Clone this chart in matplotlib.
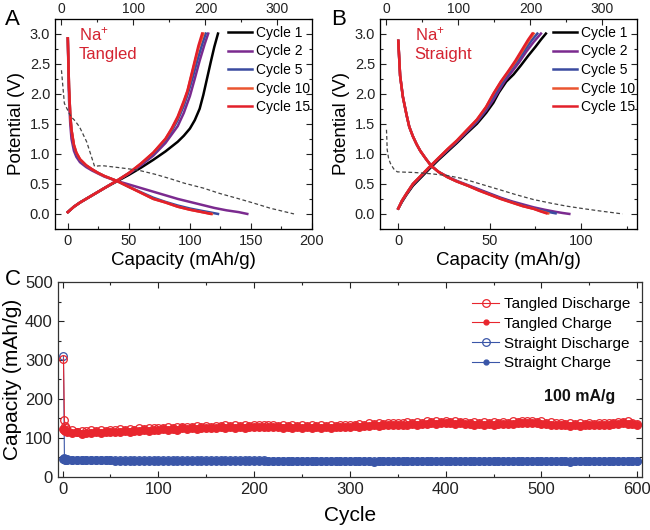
import matplotlib
matplotlib.use("Agg")
import matplotlib.pyplot as plt
from matplotlib.ticker import MultipleLocator, FormatStrFormatter
from matplotlib.lines import Line2D

plt.rcParams['font.family'] = ['Liberation Sans', 'DejaVu Sans']
plt.rcParams['mathtext.fontset'] = 'custom'
plt.rcParams['mathtext.rm'] = 'Liberation Sans'
plt.rcParams['mathtext.it'] = 'Liberation Sans'

# ---------------- Panel A (Tangled) ----------------
cycle_labels = ["Cycle 1", "Cycle 2", "Cycle 5", "Cycle 10", "Cycle 15"]
cycle_colors = ["#000000", "#7B2A8F", "#3B4BA0", "#EA5530", "#E3202A"]

# discharge curves (capacity, potential)
A_dis_c2_x = [0, 0.5, 1, 2, 3, 5, 7, 10, 15, 20, 25, 30, 40, 50, 60, 70, 80, 90, 100, 110, 120, 130, 140, 147]
A_dis_c2_v = [2.92, 2.4, 1.9, 1.5, 1.25, 1.05, 0.95, 0.86, 0.78, 0.72, 0.67, 0.62, 0.55, 0.49, 0.43, 0.37, 0.31, 0.25, 0.2, 0.15, 0.1, 0.06, 0.03, 0.0]
A_dis_c5_x = [0, 0.5, 1, 2, 3, 5, 7, 10, 15, 20, 25, 30, 40, 50, 60, 70, 80, 90, 100, 110, 118, 123]
A_dis_c5_v = [2.92, 2.5, 2.1, 1.65, 1.4, 1.12, 0.99, 0.89, 0.8, 0.74, 0.68, 0.63, 0.55, 0.45, 0.36, 0.27, 0.2, 0.14, 0.09, 0.05, 0.02, 0.0]
A_dis_c10_x = [0, 0.5, 1, 2, 3, 5, 7, 10, 15, 20, 25, 30, 40, 50, 60, 70, 80, 90, 100, 110, 118]
A_dis_c10_v = [2.92, 2.5, 2.1, 1.65, 1.4, 1.15, 1.02, 0.91, 0.81, 0.74, 0.68, 0.63, 0.55, 0.45, 0.35, 0.25, 0.19, 0.12, 0.07, 0.03, 0.0]
A_dis_c15_x = [0, 0.5, 1, 2, 3, 5, 7, 10, 15, 20, 25, 30, 40, 50, 60, 70, 80, 90, 100, 110, 117]
A_dis_c15_v = [2.92, 2.5, 2.1, 1.65, 1.4, 1.15, 1.02, 0.91, 0.81, 0.74, 0.68, 0.63, 0.55, 0.45, 0.35, 0.25, 0.19, 0.12, 0.07, 0.03, 0.0]

# charge curves
A_chg_c1_x = [0, 5, 10, 20, 30, 40, 50, 60, 70, 80, 90, 95, 100, 104, 108, 111, 114, 117, 120, 123]
A_chg_c1_v = [0.03, 0.12, 0.19, 0.31, 0.43, 0.54, 0.65, 0.77, 0.9, 1.04, 1.2, 1.3, 1.42, 1.56, 1.75, 1.98, 2.25, 2.52, 2.78, 3.0]
A_chg_c2_x = [0, 5, 10, 20, 30, 40, 50, 60, 70, 80, 90, 95, 100, 104, 108, 112, 115]
A_chg_c2_v = [0.03, 0.12, 0.19, 0.31, 0.43, 0.55, 0.67, 0.81, 0.97, 1.18, 1.46, 1.68, 1.96, 2.25, 2.55, 2.82, 3.0]
A_chg_c5_x = [0, 5, 10, 20, 30, 40, 50, 60, 70, 80, 85, 90, 95, 98, 102, 106, 110, 113]
A_chg_c5_v = [0.03, 0.12, 0.19, 0.31, 0.43, 0.55, 0.68, 0.83, 1.0, 1.23, 1.38, 1.56, 1.8, 1.98, 2.25, 2.55, 2.82, 3.0]
A_chg_c10_x = [0, 5, 10, 20, 30, 40, 50, 60, 70, 80, 85, 90, 95, 98, 101, 104, 107, 111]
A_chg_c10_v = [0.03, 0.12, 0.19, 0.31, 0.43, 0.55, 0.68, 0.84, 1.02, 1.25, 1.41, 1.6, 1.86, 2.04, 2.28, 2.52, 2.76, 3.0]
A_chg_c15_x = [0, 5, 10, 20, 30, 40, 50, 60, 70, 80, 85, 90, 95, 98, 101, 104, 107, 110]
A_chg_c15_v = [0.03, 0.12, 0.19, 0.31, 0.43, 0.55, 0.68, 0.84, 1.02, 1.25, 1.42, 1.62, 1.88, 2.05, 2.3, 2.55, 2.8, 3.0]

# dashed curve (top axis)
A_dash_x = [0, 4, 13, 18, 25, 35, 46, 52, 59, 80, 106, 130, 150, 171, 197, 220, 244, 267, 290, 323]
A_dash_v = [2.39, 1.84, 1.62, 1.56, 1.45, 1.2, 0.79, 0.80, 0.80, 0.77, 0.73, 0.66, 0.59, 0.51, 0.43, 0.34, 0.26, 0.18, 0.095, 0.0]

# ---------------- Panel B (Straight) ----------------
B_dis_c2_x = [0, 1, 2.5, 4.5, 6, 8, 10, 12, 15, 18, 22, 27, 32, 38, 44, 50, 56, 62, 68, 74, 80, 86, 90, 93.5]
B_dis_c2_v = [2.88, 2.3, 1.95, 1.65, 1.45, 1.29, 1.16, 1.05, 0.92, 0.8, 0.7, 0.62, 0.55, 0.48, 0.41, 0.34, 0.27, 0.21, 0.16, 0.11, 0.07, 0.035, 0.015, 0.0]
B_dis_c5_x = [0, 1, 2.5, 4.5, 6, 8, 10, 12, 15, 18, 22, 27, 32, 38, 44, 50, 56, 62, 68, 74, 80, 86]
B_dis_c5_v = [2.88, 2.3, 1.95, 1.65, 1.45, 1.29, 1.16, 1.05, 0.92, 0.8, 0.7, 0.61, 0.54, 0.47, 0.4, 0.33, 0.26, 0.2, 0.14, 0.09, 0.045, 0.01]
B_dis_c10_x = [0, 1, 2.5, 4.5, 6, 8, 10, 12, 15, 18, 22, 27, 32, 38, 44, 50, 56, 62, 68, 74, 78, 82]
B_dis_c10_v = [2.88, 2.3, 1.95, 1.65, 1.45, 1.29, 1.16, 1.05, 0.92, 0.8, 0.7, 0.61, 0.54, 0.47, 0.39, 0.32, 0.25, 0.19, 0.13, 0.085, 0.045, 0.01]
B_dis_c15_x = [0, 1, 2.5, 4.5, 6, 8, 10, 12, 15, 18, 22, 27, 32, 38, 44, 50, 56, 62, 68, 74, 78, 81]
B_dis_c15_v = [2.88, 2.3, 1.95, 1.65, 1.45, 1.29, 1.16, 1.05, 0.92, 0.8, 0.7, 0.61, 0.54, 0.47, 0.39, 0.32, 0.25, 0.19, 0.13, 0.085, 0.04, 0.01]

B_chg_c1_x = [0, 2, 4.5, 8, 13.5, 17, 22, 27, 32, 37, 43, 48, 52, 55, 59, 63, 67, 71, 75, 78, 80.7]
B_chg_c1_v = [0.09, 0.2, 0.32, 0.47, 0.64, 0.75, 0.9, 1.04, 1.18, 1.33, 1.5, 1.68, 1.85, 2.02, 2.2, 2.32, 2.47, 2.63, 2.78, 2.9, 3.0]
B_chg_c2_x = [0, 2, 4.5, 8, 13.5, 17, 22, 27, 32, 37, 43, 48, 52, 55, 58, 62, 66, 70, 74, 78]
B_chg_c2_v = [0.09, 0.21, 0.33, 0.49, 0.66, 0.77, 0.92, 1.06, 1.2, 1.35, 1.53, 1.72, 1.9, 2.05, 2.2, 2.36, 2.52, 2.7, 2.86, 3.0]
B_chg_c5_x = [0, 2, 4.5, 8, 13.5, 17, 22, 27, 32, 37, 43, 48, 52, 55, 58, 62, 66, 70, 73, 76]
B_chg_c5_v = [0.09, 0.22, 0.34, 0.5, 0.67, 0.78, 0.93, 1.07, 1.21, 1.37, 1.55, 1.75, 1.95, 2.1, 2.24, 2.42, 2.58, 2.76, 2.89, 3.0]
B_chg_c10_x = [0, 2, 4.5, 8, 13.5, 17, 22, 27, 32, 37, 43, 48, 52, 56, 60, 64, 68, 71, 74]
B_chg_c10_v = [0.09, 0.22, 0.34, 0.5, 0.67, 0.78, 0.93, 1.08, 1.22, 1.38, 1.57, 1.78, 2.0, 2.19, 2.36, 2.53, 2.72, 2.87, 3.0]
B_chg_c15_x = [0, 2, 4.5, 8, 13.5, 17, 22, 27, 32, 37, 43, 48, 52, 56, 60, 64, 68, 71, 73.3]
B_chg_c15_v = [0.09, 0.22, 0.34, 0.5, 0.67, 0.78, 0.93, 1.08, 1.22, 1.38, 1.57, 1.78, 2.0, 2.2, 2.37, 2.55, 2.75, 2.9, 3.0]

B_dash_x = [0, 0.5, 1, 3, 5.5, 10, 15, 25, 38, 60, 84, 105, 130, 158, 180, 204, 228, 250, 275, 296, 328]
B_dash_v = [1.4, 1.25, 1.07, 0.92, 0.84, 0.75, 0.70, 0.695, 0.69, 0.67, 0.64, 0.59, 0.5, 0.4, 0.32, 0.24, 0.18, 0.13, 0.085, 0.05, 0.0]

# ---------------- Panel C (cycling) ----------------
cycles = [1, 2, 3, 4] + list(range(5, 601, 5))
tangled_discharge = [303, 145, 130, 125,
    121, 119, 116, 118, 117, 119, 117, 120, 118, 121, 119, 122, 120, 123, 121, 124, 122, 125, 125, 126,
    125, 127, 126, 128, 127, 129, 128, 130, 128, 131, 129, 131, 130, 132, 130, 132, 131, 133, 131, 133,
    132, 134, 132, 133, 131, 133, 131, 132, 130, 132, 130, 133, 131, 133, 130, 133, 131, 133, 132, 134,
    133, 136, 134, 137, 135, 138, 136, 138, 137, 139, 137, 140, 138, 141, 139, 142, 140, 143, 141, 143,
    141, 142, 140, 141, 139, 140, 138, 140, 138, 140, 139, 141, 139, 142, 140, 143, 142, 144, 141, 142,
    139, 140, 137, 138, 136, 138, 136, 138, 136, 138, 136, 139, 137, 139, 138, 141, 140, 142, 138, 136]
tangled_charge = [122, 120, 118, 117,
    116, 112, 114, 111, 113, 112, 114, 113, 115, 114, 116, 115, 117, 116, 118, 117, 119, 118, 121, 119,
    122, 120, 123, 121, 124, 122, 125, 123, 125, 124, 126, 125, 127, 125, 127, 126, 128, 126, 128, 127,
    129, 127, 129, 127, 128, 126, 128, 126, 127, 125, 127, 126, 128, 126, 127, 126, 128, 127, 129, 128,
    130, 129, 131, 130, 132, 131, 133, 132, 134, 132, 134, 133, 135, 134, 136, 135, 137, 136, 138, 137,
    138, 136, 137, 135, 136, 134, 135, 134, 135, 134, 136, 135, 136, 136, 137, 137, 139, 138, 138, 136,
    136, 134, 134, 132, 133, 131, 133, 131, 133, 132, 133, 132, 134, 133, 135, 135, 137, 136, 135, 132]
straight_discharge = [310, 48, 46, 45,
    45, 44, 44, 43, 43, 43, 43, 43, 43, 43, 42, 42, 42, 42, 42, 42, 42, 42, 42, 42,
    42, 42, 42, 42, 42, 42, 42, 42, 42, 42, 42, 42, 42, 42, 42, 42, 42, 42, 42, 42,
    42, 42, 41, 41, 41, 41, 41, 41, 41, 41, 41, 41, 41, 41, 41, 41, 41, 41, 41, 41,
    41, 41, 41, 41, 40, 41, 41, 41, 41, 41, 41, 41, 41, 41, 41, 41, 41, 41, 41, 41,
    41, 41, 41, 41, 41, 41, 41, 41, 41, 41, 41, 41, 41, 41, 41, 41, 41, 41, 41, 41,
    41, 41, 41, 41, 41, 40, 41, 41, 41, 41, 41, 41, 41, 41, 41, 41, 41, 41, 41, 41]
straight_charge = [46, 45, 44, 44,
    43, 43, 42, 42, 42, 42, 42, 42, 42, 42, 41, 41, 41, 41, 41, 41, 41, 41, 41, 41,
    41, 41, 41, 41, 41, 41, 41, 41, 41, 41, 41, 41, 41, 41, 41, 41, 41, 41, 41, 41,
    41, 41, 40, 40, 40, 40, 40, 40, 40, 40, 40, 40, 40, 40, 40, 40, 40, 40, 40, 40,
    40, 40, 40, 40, 38, 40, 40, 40, 40, 40, 40, 40, 40, 40, 40, 40, 40, 40, 40, 40,
    40, 40, 40, 40, 40, 40, 40, 40, 40, 40, 40, 40, 40, 40, 40, 40, 40, 40, 40, 40,
    40, 40, 40, 40, 40, 38, 40, 40, 40, 40, 40, 40, 40, 40, 40, 40, 40, 40, 40, 40]

RED = "#E8262E"
BLUE = "#3A56A8"
TXT_RED = "#D42330"

fig = plt.figure(figsize=(6.5, 5.3), dpi=100)


def style_axes(ax, xmaj, xmin, ymaj, ymin, fs):
    ax.xaxis.set_major_locator(MultipleLocator(xmaj))
    ax.xaxis.set_minor_locator(MultipleLocator(xmin))
    ax.yaxis.set_major_locator(MultipleLocator(ymaj))
    ax.yaxis.set_minor_locator(MultipleLocator(ymin))
    ax.tick_params(which='both', direction='in', right=True, labelsize=fs, width=0.8, colors='#222222')
    ax.tick_params(which='major', length=4.5)
    ax.tick_params(which='minor', length=2.5)
    for s in ax.spines.values():
        s.set_linewidth(0.9)
        s.set_color('#333333')


def half_panel(rect, dis, chg, dash, xlim, text):
    ax = fig.add_axes(rect)
    ax.set_xlim(*xlim)
    ax.set_ylim(-0.25, 3.25)
    style_axes(ax, 50, 25, 0.5, 0.25, 10.5)
    ax.yaxis.set_major_formatter(FormatStrFormatter('%.1f'))
    ax.tick_params(top=False)
    ax2 = ax.twiny()
    ax2.set_xlim(-9, 348)
    ax2.xaxis.set_major_locator(MultipleLocator(100))
    ax2.xaxis.set_minor_locator(MultipleLocator(50))
    ax2.tick_params(which='both', direction='in', labelsize=10, width=0.8, colors='#222222', pad=2)
    ax2.tick_params(which='major', length=4.5)
    ax2.tick_params(which='minor', length=2.5)
    ax2.plot(dash[0], dash[1], ls=(0, (3, 2)), color='#444444', lw=0.9)
    lines = []
    for i, (lab, col) in enumerate(zip(cycle_labels, cycle_colors)):
        if dis[i] is not None:
            ax.plot(dis[i][0], dis[i][1], color=col, lw=1.8)
        l, = ax.plot(chg[i][0], chg[i][1], color=col, lw=1.8, label=lab)
        lines.append(l)
    ax.legend(handles=lines, loc='upper right', frameon=False, fontsize=10,
              handlelength=1.75, handletextpad=0.3, labelspacing=0.33,
              borderaxespad=0.0, borderpad=0.1, bbox_to_anchor=(1.0, 0.972))
    ax.text(9, 3.13, text, color=TXT_RED, fontsize=12, va='top', ha='left', linespacing=1.25)
    ax.set_xlabel("Capacity (mAh/g)", fontsize=13.5, labelpad=3)
    ax.set_ylabel("Potential (V)", fontsize=13.5, labelpad=3)
    return ax


half_panel([0.0846, 0.568, 0.3954, 0.397],
           [None, (A_dis_c2_x, A_dis_c2_v), (A_dis_c5_x, A_dis_c5_v), (A_dis_c10_x, A_dis_c10_v), (A_dis_c15_x, A_dis_c15_v)],
           [(A_chg_c1_x, A_chg_c1_v), (A_chg_c2_x, A_chg_c2_v), (A_chg_c5_x, A_chg_c5_v), (A_chg_c10_x, A_chg_c10_v), (A_chg_c15_x, A_chg_c15_v)],
           (A_dash_x, A_dash_v), (-10.5, 200), "Na$^{+}$\nTangled")

half_panel([0.5846, 0.568, 0.3954, 0.397],
           [None, (B_dis_c2_x, B_dis_c2_v), (B_dis_c5_x, B_dis_c5_v), (B_dis_c10_x, B_dis_c10_v), (B_dis_c15_x, B_dis_c15_v)],
           [(B_chg_c1_x, B_chg_c1_v), (B_chg_c2_x, B_chg_c2_v), (B_chg_c5_x, B_chg_c5_v), (B_chg_c10_x, B_chg_c10_v), (B_chg_c15_x, B_chg_c15_v)],
           (B_dash_x, B_dash_v), (-10, 130.5), "Na$^{+}$\nStraight")

# Panel C
axc = fig.add_axes([0.0888, 0.1006, 0.899, 0.3668])
axc.set_xlim(-5, 605)
axc.set_ylim(0, 500)
style_axes(axc, 100, 50, 100, 50, 12)
axc.tick_params(which='both', top=True)
ms = 5.5
axc.plot(cycles, straight_charge, '-o', color=BLUE, lw=0.8, ms=ms, mfc=BLUE, mec=BLUE, mew=0.9)
axc.plot(cycles, straight_discharge, '-o', color=BLUE, lw=0.8, ms=ms, mfc='none', mec=BLUE, mew=0.9)
axc.plot(cycles, tangled_charge, '-o', color=RED, lw=0.8, ms=ms, mfc=RED, mec=RED, mew=0.9)
axc.plot(cycles, tangled_discharge, '-o', color=RED, lw=0.8, ms=ms, mfc='none', mec=RED, mew=0.9)
leg_handles = [
    Line2D([], [], color=RED, lw=0.8, marker='o', ms=5.5, mfc='none', mec=RED, mew=0.9),
    Line2D([], [], color=RED, lw=0.8, marker='o', ms=3.5, mfc=RED, mec=RED),
    Line2D([], [], color=BLUE, lw=0.8, marker='o', ms=5.5, mfc='none', mec=BLUE, mew=0.9),
    Line2D([], [], color=BLUE, lw=0.8, marker='o', ms=3.5, mfc=BLUE, mec=BLUE),
]
axc.legend(leg_handles, ["Tangled Discharge", "Tangled Charge", "Straight Discharge", "Straight Charge"],
           loc='upper right', frameon=False, fontsize=11, handlelength=1.8, handletextpad=0.3,
           labelspacing=0.38, borderaxespad=0.0, borderpad=0.2, bbox_to_anchor=(0.985, 0.94))
axc.text(540, 205, "100 mA/g", fontsize=11.5, fontweight='bold', ha='center', va='center', color='#111111')
axc.set_xlabel("Cycle", fontsize=15, labelpad=7)
axc.set_ylabel("Capacity (mAh/g)", fontsize=15, labelpad=2)

fig.text(5 / 650, 1 - 25 / 530, "A", fontsize=16, va='baseline', ha='left')
fig.text(331 / 650, 1 - 25 / 530, "B", fontsize=16, va='baseline', ha='left')
fig.text(5 / 650, 1 - 285 / 530, "C", fontsize=16, va='baseline', ha='left')

fig.savefig("out.png", dpi=100)
